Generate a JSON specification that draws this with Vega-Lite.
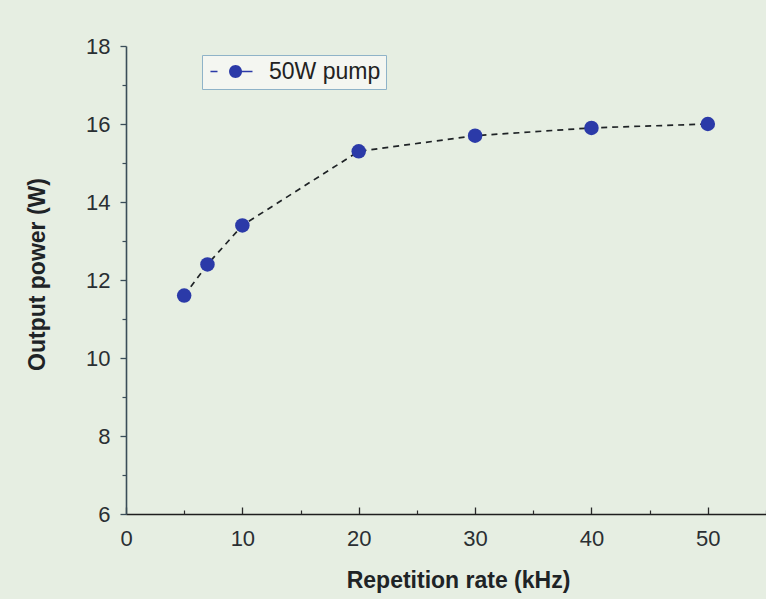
{
  "$schema": "https://vega.github.io/schema/vega-lite/v6.json",
  "autosize": "none",
  "width": 640,
  "height": 468,
  "padding": {"left": 126, "top": 46, "right": 0, "bottom": 85},
  "background": "#e6eee2",
  "config": {
    "view": {"stroke": null},
    "font": "Liberation Sans",
    "axis": {"grid": false, "labelFlush": false, "labelFont": "Liberation Sans", "titleFont": "Liberation Sans", "labelColor": "#2a2f33", "titleColor": "#1e2326", "labelFontSize": 22, "titleFontSize": 23, "titleFontWeight": "bold"}
  },
  "data": {"values": [
    {"rate": 5, "power": 11.6, "series": "50W pump"},
    {"rate": 7, "power": 12.4, "series": "50W pump"},
    {"rate": 10, "power": 13.4, "series": "50W pump"},
    {"rate": 20, "power": 15.3, "series": "50W pump"},
    {"rate": 30, "power": 15.7, "series": "50W pump"},
    {"rate": 40, "power": 15.9, "series": "50W pump"},
    {"rate": 50, "power": 16.0, "series": "50W pump"}
  ]},
  "layer": [
    {
      "mark": {"type": "line", "color": "#1f2326", "strokeWidth": 1.7, "strokeDash": [6, 5]},
      "encoding": {
        "x": {"field": "rate", "type": "quantitative", "scale": {"domain": [0, 55], "nice": false, "zero": false},
          "axis": {"title": "Repetition rate (kHz)", "values": [0, 10, 20, 30, 40, 50], "format": "d", "labelFlush": false, "tickSize": -7, "tickColor": "#2a2a2a", "tickWidth": 1.3, "domainColor": "#1e1e1e", "domainWidth": 1.6, "labelPadding": 21, "titleX": 332, "titleY": 73, "titleBaseline": "alphabetic"}},
        "y": {"field": "power", "type": "quantitative", "scale": {"domain": [6, 18], "nice": false, "zero": false},
          "axis": {"title": "Output power (W)", "values": [6, 8, 10, 12, 14, 16, 18], "format": "d", "labelFlush": false, "tickSize": 6, "tickColor": "#3a4d58", "tickWidth": 1.3, "domainColor": "#3a4d58", "domainWidth": 1.6, "labelPadding": 10, "titleX": -89, "titleY": 228, "titleAngle": -90, "titleBaseline": "middle", "titleAlign": "center"}}
      }
    },
    {
      "mark": {"type": "point", "filled": true, "opacity": 1, "size": 210},
      "encoding": {
        "x": {"field": "rate", "type": "quantitative", "axis": null},
        "y": {"field": "power", "type": "quantitative", "axis": null},
        "color": {"field": "series", "type": "nominal", "scale": {"range": ["#2b3aa8"]},
          "legend": {"title": null, "orient": "none", "legendX": 76, "legendY": 9, "padding": 5,
            "fillColor": "#f4f6f1", "strokeColor": "#8fb3c8",
            "symbolType": "M2.14,0A0.59,0.59,0,1,1,0.96,0A0.59,0.59,0,1,1,2.14,0Z M-0.73,-0.073h0.64v0.146h-0.64Z M2.1,-0.073h0.99v0.146h-0.99Z",
            "symbolSize": 484, "symbolFillColor": "#2b3aa8", "symbolStrokeWidth": 0,
            "labelFont": "Liberation Sans", "labelFontSize": 23, "labelColor": "#222", "labelOffset": 39}}
      }
    },
    {
      "mark": {"type": "point", "opacity": 0},
      "encoding": {
        "x": {"field": "rate", "type": "quantitative",
          "axis": {"orient": "bottom", "title": null, "labels": false, "domain": false, "values": [5, 15, 25, 35, 45, 55], "tickSize": -4, "tickColor": "#2a2a2a", "tickWidth": 1.2}},
        "y": {"field": "power", "type": "quantitative",
          "axis": {"orient": "left", "title": null, "labels": false, "domain": false, "values": [7, 9, 11, 13, 15, 17], "tickSize": 4, "tickColor": "#3a4d58", "tickWidth": 1.2}}
      }
    }
  ],
  "resolve": {"axis": {"x": "independent", "y": "independent"}}
}
